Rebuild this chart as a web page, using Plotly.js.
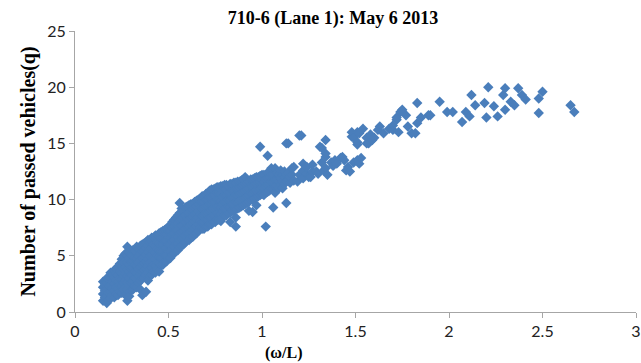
<!DOCTYPE html>
<html>
<head>
<meta charset="utf-8">
<script src="https://cdn.plot.ly/plotly-3.0.1.min.js"></script>
<style>html,body{margin:0;padding:0;background:#fff;}#chart{width:641px;height:363px;}</style>
</head>
<body>
<div id="chart"></div>
<script>
// Dense band, read column by column (omega/L values and q values)
const denseX = [
0.15,0.15,0.15,0.15,
0.16,0.16,0.16,
0.17,0.17,0.17,0.17,0.17,
0.18,0.18,0.18,0.18,
0.19,0.19,0.19,0.19,0.19,
0.20,0.20,0.20,0.20,
0.21,0.21,0.21,0.21,0.21,
0.22,0.22,0.22,0.22,0.22,
0.23,0.23,0.23,0.23,0.23,
0.24,0.24,0.24,0.24,0.24,
0.25,0.25,0.25,0.25,0.25,0.25,
0.26,0.26,0.26,0.26,0.26,0.26,
0.27,0.27,0.27,0.27,0.27,0.27,0.27,
0.28,0.28,0.28,0.28,0.28,0.28,0.28,0.28,
0.29,0.29,0.29,0.29,0.29,0.29,0.29,
0.30,0.30,0.30,0.30,0.30,0.30,
0.31,0.31,0.31,0.31,0.31,0.31,0.31,
0.32,0.32,0.32,0.32,0.32,0.32,
0.33,0.33,0.33,0.33,0.33,0.33,0.33,
0.34,0.34,0.34,0.34,0.34,0.34,
0.35,0.35,0.35,0.35,0.35,0.35,0.35,
0.36,0.36,0.36,0.36,0.36,0.36,0.36,
0.37,0.37,0.37,0.37,0.37,0.37,
0.38,0.38,0.38,0.38,0.38,0.38,0.38,
0.39,0.39,0.39,0.39,0.39,0.39,0.39,
0.40,0.40,0.40,0.40,0.40,0.40,
0.41,0.41,0.41,0.41,0.41,0.41,0.41,
0.42,0.42,0.42,0.42,0.42,0.42,
0.43,0.43,0.43,0.43,0.43,0.43,0.43,
0.44,0.44,0.44,0.44,0.44,0.44,
0.45,0.45,0.45,0.45,0.45,0.45,0.45,
0.46,0.46,0.46,0.46,0.46,0.46,
0.47,0.47,0.47,0.47,0.47,0.47,
0.48,0.48,0.48,0.48,0.48,0.48,
0.49,0.49,0.49,0.49,0.49,0.49,
0.50,0.50,0.50,0.50,0.50,0.50,
0.51,0.51,0.51,0.51,0.51,0.51,
0.52,0.52,0.52,0.52,0.52,0.52,
0.53,0.53,0.53,0.53,0.53,0.53,
0.54,0.54,0.54,0.54,0.54,0.54,
0.55,0.55,0.55,0.55,0.55,0.55,
0.56,0.56,0.56,0.56,0.56,0.56,0.56,
0.57,0.57,0.57,0.57,0.57,0.57,
0.58,0.58,0.58,0.58,0.58,0.58,
0.59,0.59,0.59,0.59,0.59,0.59,
0.60,0.60,0.60,0.60,0.60,0.60,
0.61,0.61,0.61,0.61,0.61,0.61,
0.62,0.62,0.62,0.62,0.62,0.62,
0.63,0.63,0.63,0.63,0.63,0.63,
0.64,0.64,0.64,0.64,0.64,0.64,
0.65,0.65,0.65,0.65,0.65,0.65,
0.66,0.66,0.66,0.66,0.66,0.66,
0.67,0.67,0.67,0.67,0.67,0.67,
0.68,0.68,0.68,0.68,0.68,0.68,
0.69,0.69,0.69,0.69,0.69,0.69,
0.70,0.70,0.70,0.70,0.70,0.70,
0.71,0.71,0.71,0.71,0.71,0.71,
0.72,0.72,0.72,0.72,0.72,0.72,
0.73,0.73,0.73,0.73,0.73,0.73,
0.74,0.74,0.74,0.74,0.74,0.74,
0.75,0.75,0.75,0.75,0.75,0.75,
0.76,0.76,0.76,0.76,0.76,0.76,
0.77,0.77,0.77,0.77,0.77,0.77,
0.78,0.78,0.78,0.78,0.78,0.78,
0.79,0.79,0.79,0.79,0.79,0.79,
0.80,0.80,0.80,0.80,0.80,0.80,
0.81,0.81,0.81,0.81,0.81,0.81,
0.82,0.82,0.82,0.82,0.82,
0.83,0.83,0.83,0.83,0.83,0.83,
0.84,0.84,0.84,0.84,0.84,
0.85,0.85,0.85,0.85,0.85,
0.86,0.86,0.86,0.86,0.86,0.86,0.86,
0.87,0.87,0.87,0.87,0.87,
0.88,0.88,0.88,0.88,0.88,
0.89,0.89,0.89,0.89,0.89,
0.90,0.90,0.90,0.90,0.90,
0.91,0.91,0.91,0.91,0.91,
0.92,0.92,0.92,0.92,
0.93,0.93,0.93,0.93,0.93,
0.94,0.94,0.94,0.94,
0.95,0.95,0.95,0.95,0.95,
0.96,0.96,0.96,0.96,
0.97,0.97,0.97,0.97,0.97,
0.98,0.98,0.98,0.98,
0.99,0.99,0.99,0.99,
1.00,1.00,1.00,1.00,
1.01,1.01,1.01,1.01,
1.02,1.02,1.02,1.02,
1.03,1.03,1.03,1.03,
1.04,1.04,1.04,
1.05,1.05,1.05,1.05,
1.06,1.06,1.06,1.06,
1.07,1.07,1.07,1.07,
1.08,1.08,1.08,
1.09,1.09,1.09,
1.10,1.10,1.10,
1.11,1.11,1.11,
1.12,1.12,1.12,
1.13,1.13,1.13,
1.14,1.14,
1.15,1.15,
1.16,1.16,
1.17,1.17
];
const denseQ = [
1.0,1.6,2.2,2.7,
1.3,1.9,2.5,
0.8,1.4,2.0,2.6,3.0,
1.1,1.7,2.3,2.9,
1.2,1.8,2.4,3.0,3.5,
1.5,2.1,2.7,3.3,
1.3,1.9,2.5,3.1,3.7,
1.6,2.2,2.8,3.4,3.9,
1.5,2.1,2.7,3.3,4.0,
1.8,2.4,3.0,3.6,4.3,
1.7,2.3,2.9,3.5,4.1,4.7,
2.0,2.6,3.2,3.8,4.4,5.0,
1.5,2.2,2.8,3.4,4.0,4.6,5.2,
1.0,2.0,2.6,3.2,3.8,4.4,5.0,5.8,
1.4,2.4,3.0,3.6,4.2,4.8,5.3,
1.9,2.6,3.3,3.9,4.5,5.1,
2.0,2.7,3.3,3.9,4.5,5.1,5.5,
2.3,3.0,3.6,4.2,4.8,5.4,
2.2,2.9,3.5,4.1,4.7,5.3,5.8,
2.6,3.2,3.8,4.4,5.0,5.6,
2.0,2.8,3.4,4.0,4.6,5.2,5.9,
1.5,3.0,3.6,4.2,4.8,5.4,6.0,
3.1,3.7,4.3,4.9,5.5,6.1,
1.8,3.3,3.9,4.5,5.1,5.7,6.2,
2.8,3.5,4.1,4.7,5.3,5.9,6.4,
3.2,3.8,4.4,5.0,5.6,6.2,
3.3,3.9,4.5,5.1,5.7,6.3,6.6,
3.6,4.2,4.8,5.4,6.0,6.6,
3.5,4.1,4.7,5.3,5.9,6.5,6.8,
3.8,4.4,5.0,5.6,6.2,6.8,
3.6,4.3,4.9,5.5,6.1,6.7,7.0,
4.2,4.8,5.4,6.0,6.6,7.1,
4.2,4.8,5.4,6.0,6.6,7.2,
4.5,5.1,5.7,6.3,6.9,7.3,
4.5,5.1,5.7,6.3,6.9,7.4,
4.8,5.4,6.0,6.6,7.2,7.6,
4.8,5.4,6.0,6.6,7.2,7.7,
5.1,5.7,6.3,6.9,7.5,8.0,
5.2,5.8,6.4,7.0,7.6,8.2,
5.5,6.1,6.7,7.3,7.9,8.4,
5.5,6.1,6.7,7.3,7.9,8.6,
5.8,6.4,7.0,7.6,8.2,8.8,9.7,
5.9,6.5,7.1,7.7,8.3,9.2,
6.0,6.6,7.2,7.8,8.4,9.0,
6.2,6.8,7.4,8.0,8.6,9.3,
6.4,7.0,7.6,8.2,8.8,9.4,
6.4,7.0,7.6,8.2,8.8,9.5,
6.6,7.2,7.8,8.4,9.0,9.6,
6.7,7.3,7.9,8.5,9.1,9.6,
6.9,7.5,8.1,8.7,9.3,9.8,
7.0,7.6,8.2,8.8,9.4,9.9,
7.2,7.8,8.4,9.0,9.6,10.0,
7.5,8.1,8.7,9.3,9.9,10.1,
7.4,8.0,8.6,9.2,9.8,10.3,
7.4,8.0,8.6,9.2,9.8,10.3,
7.6,8.2,8.8,9.4,10.0,10.5,
7.6,8.2,8.8,9.4,10.0,10.6,
7.8,8.4,9.0,9.6,10.2,10.8,
7.8,8.4,9.0,9.6,10.2,10.9,
8.0,8.6,9.2,9.8,10.4,10.9,
8.0,8.6,9.2,9.8,10.4,11.0,
8.2,8.8,9.4,10.0,10.6,11.1,
8.2,8.8,9.4,10.0,10.6,11.1,
8.1,8.7,9.3,9.9,10.5,11.2,
8.4,9.0,9.6,10.2,10.8,11.2,
8.6,9.2,9.8,10.4,11.0,11.3,
8.6,9.2,9.8,10.4,11.0,11.3,
8.8,9.4,10.0,10.6,11.2,
8.0,8.8,9.4,10.0,10.6,11.4,
9.0,9.6,10.2,10.8,11.4,
9.0,9.6,10.2,10.8,11.5,
7.6,8.4,9.2,9.8,10.4,11.0,11.5,
9.2,9.8,10.4,11.0,11.6,
9.3,9.9,10.5,11.1,11.6,
9.4,10.0,10.6,11.2,11.7,
9.5,10.1,10.7,11.3,11.8,
9.6,10.2,10.8,11.4,12.0,
9.7,10.3,10.9,11.5,
9.0,9.8,10.4,11.0,11.6,
10.0,10.6,11.2,11.8,
8.9,10.0,10.6,11.2,11.8,
10.1,10.7,11.3,11.9,
9.5,10.2,10.8,11.4,12.0,
10.3,10.9,11.5,12.0,
10.4,11.0,11.6,12.1,
10.5,11.1,11.7,12.2,
10.4,11.0,11.6,12.2,
7.6,10.6,11.2,11.8,
10.7,11.3,11.9,12.4,
10.8,11.4,12.0,
11.0,11.6,12.2,12.8,
9.3,11.0,11.6,12.2,
10.6,11.2,11.8,12.8,
11.2,11.8,12.4,
11.0,11.6,12.2,
11.3,11.9,12.6,
11.0,11.6,12.2,
11.4,12.0,12.5,
9.7,11.6,12.2,
11.8,12.4,
11.5,12.0,
12.2,12.8,
11.7,12.9
];
// Sparse points above omega/L = 0.95
const sparseX = [
0.99,1.03,1.14,1.13,1.20,1.21,1.22,1.31,
1.19,1.20,1.22,1.22,1.24,1.24,1.25,1.26,1.27,1.27,1.29,1.30,
1.32,1.32,1.33,1.34,1.34,1.34,1.34,1.35,1.37,1.38,1.39,1.40,
1.42,1.43,1.44,1.45,1.46,1.47,1.48,1.48,1.49,1.49,
1.51,1.51,1.51,1.51,1.52,1.52,1.53,1.54,1.56,1.56,1.57,1.58,
1.59,1.60,1.62,1.63,1.65,1.68,1.70,1.70,1.72,1.72,1.73,1.74,
1.75,1.77,1.78,1.80,1.82,1.83,1.83,1.85,1.89,1.90,1.95,1.99,
2.02,2.07,2.09,2.11,2.12,2.14,2.19,2.20,2.21,2.24,2.26,2.29,
2.30,2.30,2.33,2.35,2.37,2.39,2.41,2.48,2.48,2.50,2.65,2.67
];
const sparseQ = [
14.7,13.9,15.0,15.0,15.7,15.7,13.2,14.7,
11.6,12.2,11.9,12.6,12.3,12.9,12.0,12.0,12.5,13.1,12.5,12.3,
13.3,14.6,12.6,12.8,13.8,14.1,15.3,12.2,13.3,13.0,13.5,13.2,
13.7,13.8,13.5,12.6,12.9,12.5,15.6,16.0,13.3,15.5,
13.5,14.9,15.1,16.0,15.9,13.2,13.7,16.3,15.0,15.5,15.0,15.8,
15.3,15.5,16.2,16.5,15.9,16.3,16.2,16.6,17.1,17.3,16.0,17.8,
18.0,17.5,16.5,15.9,15.9,18.6,16.8,17.3,17.5,17.5,18.7,17.8,
17.8,16.9,17.8,17.4,19.3,18.4,18.6,17.3,20.0,18.3,17.4,19.3,
19.9,18.0,18.7,18.4,19.9,19.3,18.9,19.0,17.7,19.6,18.4,17.8
];

const xTicks = [0, 0.5, 1, 1.5, 2, 2.5, 3];
const yTicks = [0, 5, 10, 15, 20, 25];

const trace = {
  x: denseX.concat(sparseX),
  y: denseQ.concat(sparseQ),
  type: 'scatter',
  mode: 'markers',
  marker: {symbol: 'diamond', size: 8, color: '#4A7EBB', line: {width: 0}},
  hoverinfo: 'x+y'
};

const tickFont = {family: 'Lato, "Open Sans", sans-serif', size: 16, color: '#222'};
const serifBold = '"Liberation Serif", "Times New Roman", serif';

const layout = {
  width: 641, height: 363,
  margin: {l: 75, r: 5, t: 31, b: 51},
  paper_bgcolor: '#fff', plot_bgcolor: '#fff',
  showlegend: false,
  title: {
    text: '<b>710-6 (Lane 1): May 6 2013</b>',
    font: {family: serifBold, size: 18, color: '#000'},
    x: 333/641, xref: 'container', xanchor: 'center',
    y: 1 - 18/363, yref: 'container', yanchor: 'middle'
  },
  xaxis: {
    range: [0, 3], tickvals: xTicks, ticktext: xTicks.map(String),
    showgrid: false, zeroline: false, showline: true, linecolor: '#A6A6A6', linewidth: 1,
    ticks: 'outside', ticklen: 5, tickcolor: '#A6A6A6', tickfont: tickFont
  },
  yaxis: {
    range: [0, 25], tickvals: yTicks, ticktext: yTicks.map(String),
    showgrid: false, zeroline: false, showline: true, linecolor: '#A6A6A6', linewidth: 1,
    ticks: 'outside', ticklen: 5, tickcolor: '#A6A6A6', tickfont: tickFont,
    title: {text: '<b>Number of passed vehicles(q)</b>', font: {family: serifBold, size: 20, color: '#000'}, standoff: 6}
  },
  annotations: [{
    text: '<b>(ω/L)</b>', xref: 'paper', yref: 'paper',
    x: (283 - 75) / 561, y: 0, yshift: -41, xanchor: 'center', yanchor: 'middle',
    showarrow: false, font: {family: serifBold, size: 16, color: '#000'}
  }]
};

Plotly.newPlot('chart', [trace], layout, {displayModeBar: false, staticPlot: true});
</script>
</body>
</html>
